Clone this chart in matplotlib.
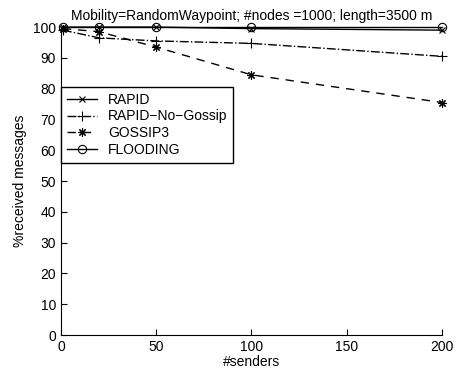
import matplotlib.pyplot as plt

plt.rcParams['font.family'] = ['Liberation Sans', 'DejaVu Sans']

senders = [1, 20, 50, 100, 200]
rapid = [100, 100, 100, 99.5, 99]
rapid_no_gossip = [99, 96.5, 95.5, 94.7, 90.5]
gossip3 = [99.5, 98.5, 93.5, 84.5, 75.5]
flooding = [100, 100, 100, 100, 100]

fig = plt.figure(figsize=(4.57, 3.76), dpi=100)
ax = fig.add_axes([0.1335, 0.109, 0.8335, 0.819])

ax.plot(senders, rapid, 'k-', marker='x', ms=4, mew=0.8, lw=1, label='RAPID', clip_on=False)
ax.plot(senders, rapid_no_gossip, 'k-.', marker='+', ms=7, mew=0.8, lw=1,
        label='RAPID\u2212No\u2212Gossip', clip_on=False)
ax.plot(senders, gossip3, 'k--', marker=(8, 2, 0), ms=6, mew=0.8, lw=1, label='GOSSIP3',
        dashes=(6, 5), clip_on=False)
ax.plot(senders, flooding, 'k-', marker='o', ms=6, mfc='none', mew=0.8, lw=1,
        label='FLOODING', clip_on=False)

ax.set_xlim(0, 200)
ax.set_ylim(0, 100)
ax.set_xticks([0, 50, 100, 150, 200])
ax.set_yticks(range(0, 101, 10))
ax.tick_params(direction='in', length=4, labelsize=10, width=0.8)
ax.spines['top'].set_visible(False)
ax.spines['right'].set_visible(False)

ax.set_title('Mobility=RandomWaypoint; #nodes =1000; length=3500 m', fontsize=10, pad=5)
ax.set_xlabel('#senders', fontsize=10, labelpad=1)
ax.set_ylabel('%received messages', fontsize=10)

leg = ax.legend(loc='upper left', bbox_to_anchor=(0.0, 0.805), fontsize=10,
                fancybox=False, edgecolor='black', framealpha=1,
                borderaxespad=0, handlelength=2.2, labelspacing=0.2, borderpad=0.4)
leg.get_frame().set_linewidth(1.0)

fig.savefig('out.png', dpi=100)
